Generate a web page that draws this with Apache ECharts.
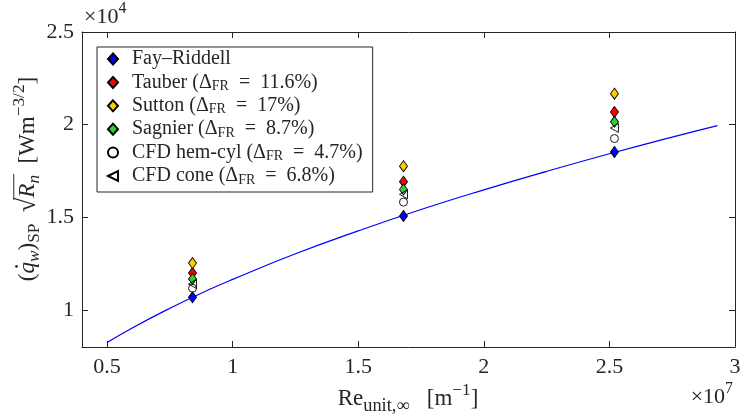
<!DOCTYPE html>
<html><head><meta charset="utf-8">
<script src="https://cdn.jsdelivr.net/npm/echarts@6/dist/echarts.min.js"></script>
<style>html,body{margin:0;padding:0;background:#fff}#c{width:746px;height:417px}</style>
</head><body><div id="c"></div>
<script>
// Unit Reynolds number (x 1e7)
const reX = [0.84, 1.68, 2.52];
// Stagnation-point heat flux * sqrt(Rn) (x 1e4)
const fayRiddell = [1.068, 1.507, 1.853];
const tauber = [1.199, 1.692, 2.068];
const sutton = [1.253, 1.776, 2.167];
const sagnier = [1.167, 1.650, 2.015];
const cfdHemCyl = [1.117, 1.582, 1.925];
const cfdCone = [1.140, 1.624, 1.982];
// Fay–Riddell correlation curve
const curveX = [0.5, 0.6, 0.75, 0.9, 1.0, 1.25, 1.5, 1.75, 2.0, 2.25, 2.5, 2.75, 2.93];
const curveY = [0.824, 0.903, 1.009, 1.106, 1.165, 1.303, 1.427, 1.542, 1.648, 1.748, 1.843, 1.933, 1.995];
const xTicks = [0.5, 1, 1.5, 2, 2.5, 3];
const yTicks = [1, 1.5, 2, 2.5];
const legendNames = ['Fay–Riddell', 'Tauber', 'Sutton', 'Sagnier', 'CFD hem-cyl', 'CFD cone'];
const legendDeltas = [null, '11.6%', '17%', '8.7%', '4.7%', '6.8%'];

const FONT = 'Liberation Serif';
const INK = '#262626';
const chart = echarts.init(document.getElementById('c'));

const ctx = document.createElement('canvas').getContext('2d');
function mathGroup(tokens, F, x, y, rotation, align) {
  let cx = 0; const children = []; const bars = [];
  tokens.forEach(tok => {
    const size = F * (tok.s || 1);
    const font = (tok.it ? 'italic ' : '') + size + 'px "' + FONT + '"';
    ctx.font = font;
    const w = ctx.measureText(tok.t).width;
    children.push({ type: 'text', x: cx, y: (tok.dy || 0) * F,
      style: { text: tok.t, font: font, fill: INK, align: 'left', verticalAlign: 'middle' } });
    if (tok.dot) children.push({ type: 'circle', shape: { cx: cx + w * 0.62, cy: -0.5 * F, r: 1.4 }, style: { fill: INK } });
    if (tok.sqrtTop != null) bars.push({ x0: cx + w * 0.85, y: tok.sqrtTop * F });
    cx += w;
    if (tok.barEnd) { bars[bars.length - 1].x1 = cx + 1; }
  });
  bars.forEach(b => children.push({ type: 'line', shape: { x1: b.x0, y1: b.y, x2: b.x1, y2: b.y }, style: { stroke: INK, lineWidth: 1 } }));
  const shift = align === 'center' ? -cx / 2 : (align === 'right' ? -cx : 0);
  children.forEach(c => { if (c.type === 'text') c.x += shift; else if (c.type === 'circle') c.shape.cx += shift; else { c.shape.x1 += shift; c.shape.x2 += shift; } });
  return { type: 'group', x: x, y: y, rotation: rotation || 0, children: children };
}

const yTitle = mathGroup([
  { t: '(' }, { t: 'q', it: 1, dot: 1 }, { t: 'w', it: 1, s: 0.75, dy: 0.3 }, { t: ')' },
  { t: 'SP', s: 0.75, dy: 0.3 }, { t: '  ' },
  { t: '√', s: 1.15, sqrtTop: -0.62 }, { t: 'R', it: 1 }, { t: 'n', it: 1, s: 0.75, dy: 0.3, barEnd: 1 },
  { t: '  [Wm' }, { t: '−3/2', s: 0.75, dy: -0.38 }, { t: ']' }
], 23, 28, 179, Math.PI / 2, 'center');
const xTitle = mathGroup([
  { t: 'Re' }, { t: 'unit,∞', s: 0.8, dy: 0.3 }, { t: '   [m' }, { t: '−1', s: 0.75, dy: -0.38 }, { t: ']' }
], 23, 408, 399, 0, 'center');
const x10y = mathGroup([{ t: '×10' }, { t: '4', s: 0.72, dy: -0.38 }], 22, 84, 17, 0, 'left');
const x10x = mathGroup([{ t: '×10' }, { t: '7', s: 0.72, dy: -0.38 }], 22, 733, 397, 0, 'right');

function fmt(v) { return String(+(+v).toFixed(2)); }
function xAx(pos, show) {
  return { type: 'value', position: pos, min: 0.4, max: 3, gridIndex: 0,
    axisLine: { show: true, onZero: false, lineStyle: { color: INK, width: 1 } },
    axisTick: { show: true, inside: true, length: 6, customValues: xTicks, lineStyle: { color: INK } },
    axisLabel: { show: show, customValues: xTicks, formatter: fmt, fontFamily: FONT, fontSize: 22, color: INK, margin: 9 },
    splitLine: { show: false } };
}
function yAx(pos, show) {
  return { type: 'value', position: pos, min: 0.8, max: 2.5, gridIndex: 0,
    axisLine: { show: true, onZero: false, lineStyle: { color: INK, width: 1 } },
    axisTick: { show: true, inside: true, length: 6, customValues: yTicks, lineStyle: { color: INK } },
    axisLabel: { show: show, customValues: yTicks, formatter: fmt, fontFamily: FONT, fontSize: 22, color: INK, margin: 8 },
    splitLine: { show: false } };
}

const markerDefs = [
  { data: fayRiddell, symbol: 'diamond', color: '#0000ff' },
  { data: tauber, symbol: 'diamond', color: '#ff0000' },
  { data: sutton, symbol: 'diamond', color: '#ffcc00' },
  { data: sagnier, symbol: 'diamond', color: '#33cc33' },
  { data: cfdHemCyl, symbol: 'circle', color: 'rgba(0,0,0,0)' },
  { data: cfdCone, symbol: 'path://M0,50 L100,0 L100,100 Z', color: 'rgba(0,0,0,0)' }
];
const scatterSeries = markerDefs.map((d, i) => ({
  type: 'scatter', name: legendNames[i], symbol: d.symbol,
  symbolSize: d.symbol === 'diamond' ? [8, 11] : (d.symbol === 'circle' ? 8 : [8, 9]),
  itemStyle: { color: d.color, borderColor: '#000', borderWidth: 0.9, opacity: 1 },
  data: reX.map((x, k) => [x, d.data[k]]), z: 3 + i
}));

chart.setOption({
  animation: false,
  grid: { left: 82, top: 32, right: 11, bottom: 70, containLabel: false },
  xAxis: [xAx('bottom', true), xAx('top', false)],
  yAxis: [yAx('left', true), yAx('right', false)],
  legend: {
    orient: 'vertical', left: 97, top: 47, data: legendNames,
    backgroundColor: '#fff', borderColor: INK, borderWidth: 1, borderRadius: 0,
    padding: [1, 10, 5, 10], itemGap: 1.4, itemWidth: 10, itemHeight: 11,
    formatter: function (name) {
      const i = legendNames.indexOf(name);
      if (!legendDeltas[i]) return '{a|' + name + '}';
      return '{a|' + name + ' (Δ}{s|FR}{a|\u2002=\u2002' + legendDeltas[i] + ')}';
    },
    textStyle: { fontFamily: FONT, fontSize: 20, color: INK, padding: [0, 0, 0, 9], lineHeight: 22,
      rich: { a: { fontFamily: FONT, fontSize: 20, height: 22, lineHeight: 22, color: INK },
              s: { fontFamily: FONT, fontSize: 14, lineHeight: 11, verticalAlign: 'bottom', color: INK } } }
  },
  series: [{
    type: 'line', name: 'curve', data: curveX.map((x, k) => [x, curveY[k]]), smooth: true, showSymbol: false,
    lineStyle: { color: '#0000ff', width: 1.2 }, z: 2, silent: true
  }].concat(scatterSeries),
  graphic: [yTitle, xTitle, x10y, x10x]
});
</script></body></html>
